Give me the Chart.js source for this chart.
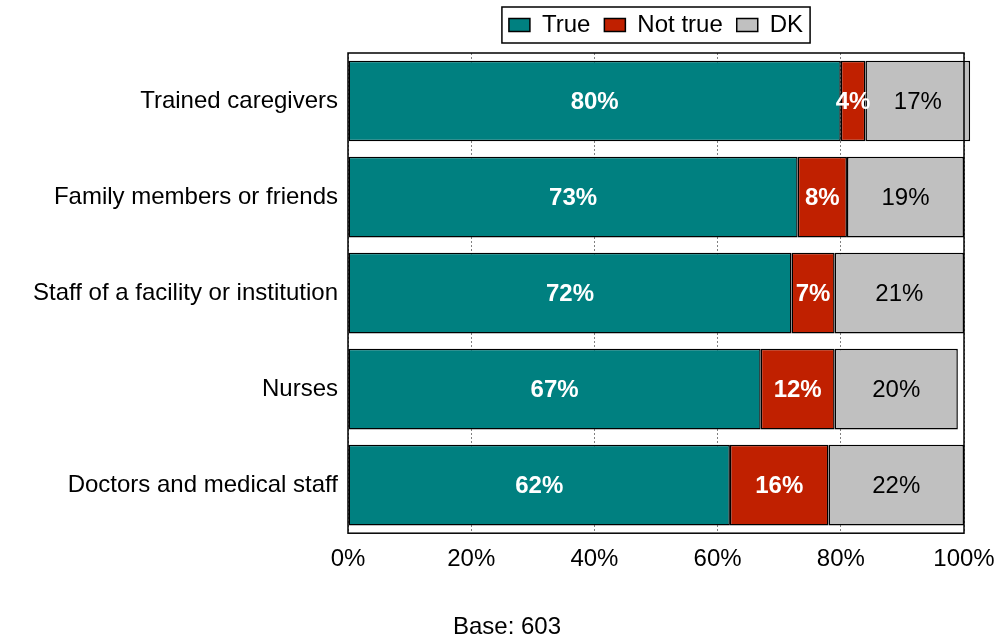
<!DOCTYPE html>
<html>
<head>
<meta charset="utf-8">
<script src="https://cdn.jsdelivr.net/npm/chart.js@4.4.0/dist/chart.umd.min.js"></script>
<style>
body{margin:0;background:#fff;}
#wrap{width:997px;height:643px;}
</style>
</head>
<body>
<div id="wrap"><canvas id="bars" width="997" height="643"></canvas></div>
<script>
var categories = ['Trained caregivers', 'Family members or friends', 'Staff of a facility or institution', 'Nurses', 'Doctors and medical staff'];
var trueVals = [80, 73, 72, 67, 62];
var notTrueVals = [4, 8, 7, 12, 16];
var dkVals = [17, 19, 21, 20, 22];
var xTicks = [0, 20, 40, 60, 80, 100];
var baseNote = 'Base: 603';

var FONT = '"Liberation Sans", Arial, sans-serif';

// frame round the plot area, drawn over the bars like the original
var framePlugin = {
    id: 'frame',
    afterDatasetsDraw: function(chart){
        var a = chart.chartArea, ctx = chart.ctx;
        ctx.save();
        ctx.strokeStyle = '#000';
        ctx.lineWidth = 1.5;
        ctx.strokeRect(a.left, a.top, a.right - a.left, a.bottom - a.top);
        ctx.restore();
    }
};

// percent labels in the middle of each segment
var valuePlugin = {
    id: 'values',
    afterDatasetsDraw: function(chart){
        var ctx = chart.ctx;
        ctx.save();
        ctx.textAlign = 'center';
        ctx.textBaseline = 'middle';
        chart.data.datasets.forEach(function(ds, i){
            var meta = chart.getDatasetMeta(i);
            ctx.fillStyle = ds.labelColor;
            ctx.font = ds.labelWeight + ' 24px ' + FONT;
            meta.data.forEach(function(bar, j){
                ctx.fillText(ds.data[j] + '%', (bar.x + bar.base) / 2, bar.y + 1);
            });
        });
        ctx.restore();
    }
};

// legend sits a bit higher and gets a box round it; base note a bit right
var legendBoxPlugin = {
    id: 'legendBox',
    afterLayout: function(chart){
        chart.legend.top -= 6;
        chart.legend.bottom -= 6;
        chart.titleBlock.left += 25;
        chart.titleBlock.right += 25;
    },
    afterDraw: function(chart){
        var boxes = chart.legend.legendHitBoxes;
        if(!boxes || !boxes.length) return;
        var l = boxes[0].left, r = 0, t = boxes[0].top, b = 0;
        boxes.forEach(function(h){
            l = Math.min(l, h.left);
            r = Math.max(r, h.left + h.width);
            t = Math.min(t, h.top);
            b = Math.max(b, h.top + h.height);
        });
        var ctx = chart.ctx;
        ctx.save();
        ctx.strokeStyle = '#000';
        ctx.lineWidth = 1.5;
        ctx.strokeRect(l - 7, t - 6, r - l + 14, b - t + 12);
        ctx.restore();
    }
};

var ctx = document.getElementById('bars').getContext('2d');
var chart = new Chart(ctx, {
    type: 'bar',
    data: {
        labels: categories,
        datasets: [{
            label: 'True',
            data: trueVals,
            backgroundColor: '#008080',
            labelColor: '#fff',
            labelWeight: 'bold'
        }, {
            label: 'Not true',
            data: notTrueVals,
            backgroundColor: '#C02000',
            labelColor: '#fff',
            labelWeight: 'bold'
        }, {
            label: 'DK',
            data: dkVals,
            backgroundColor: '#C0C0C0',
            labelColor: '#000',
            labelWeight: 'normal'
        }]
    },
    options: {
        indexAxis: 'y',
        responsive: false,
        animation: false,
        devicePixelRatio: 1,
        layout: { padding: { top: 5, left: 0, right: 33, bottom: 0 } },
        datasets: {
            bar: {
                borderColor: '#000',
                borderWidth: 1.5,
                borderSkipped: false,
                categoryPercentage: 1,
                barPercentage: 0.84,
                clip: false
            }
        },
        scales: {
            x: {
                stacked: true,
                min: 0,
                max: 100,
                afterBuildTicks: function(scale){
                    scale.ticks = xTicks.map(function(v){ return { value: v }; });
                },
                afterFit: function(scale){
                    scale.height = 80;
                    scale.paddingLeft = 0;
                    scale.paddingRight = 0;
                },
                grid: { color: '#808080', lineWidth: 1, drawTicks: false },
                border: { display: false, dash: [2, 2] },
                ticks: {
                    padding: 12,
                    color: '#000',
                    font: { family: FONT, size: 24 },
                    maxRotation: 0,
                    callback: function(v){ return v + '%'; }
                }
            },
            y: {
                stacked: true,
                afterFit: function(scale){ scale.width = 348; },
                grid: { display: false, drawTicks: false },
                border: { display: false },
                ticks: {
                    padding: 10,
                    color: '#000',
                    font: { family: FONT, size: 24 }
                }
            }
        },
        plugins: {
            legend: {
                position: 'top',
                fullSize: false,
                labels: {
                    boxWidth: 21,
                    boxHeight: 13,
                    padding: 14,
                    color: '#000',
                    font: { family: FONT, size: 24 }
                }
            },
            title: {
                display: true,
                position: 'bottom',
                text: baseNote,
                color: '#000',
                font: { family: FONT, size: 24, weight: 'normal' },
                padding: { top: 0, bottom: 1 }
            },
            tooltip: { enabled: false }
        }
    },
    plugins: [framePlugin, valuePlugin, legendBoxPlugin]
});
</script>
</body>
</html>
